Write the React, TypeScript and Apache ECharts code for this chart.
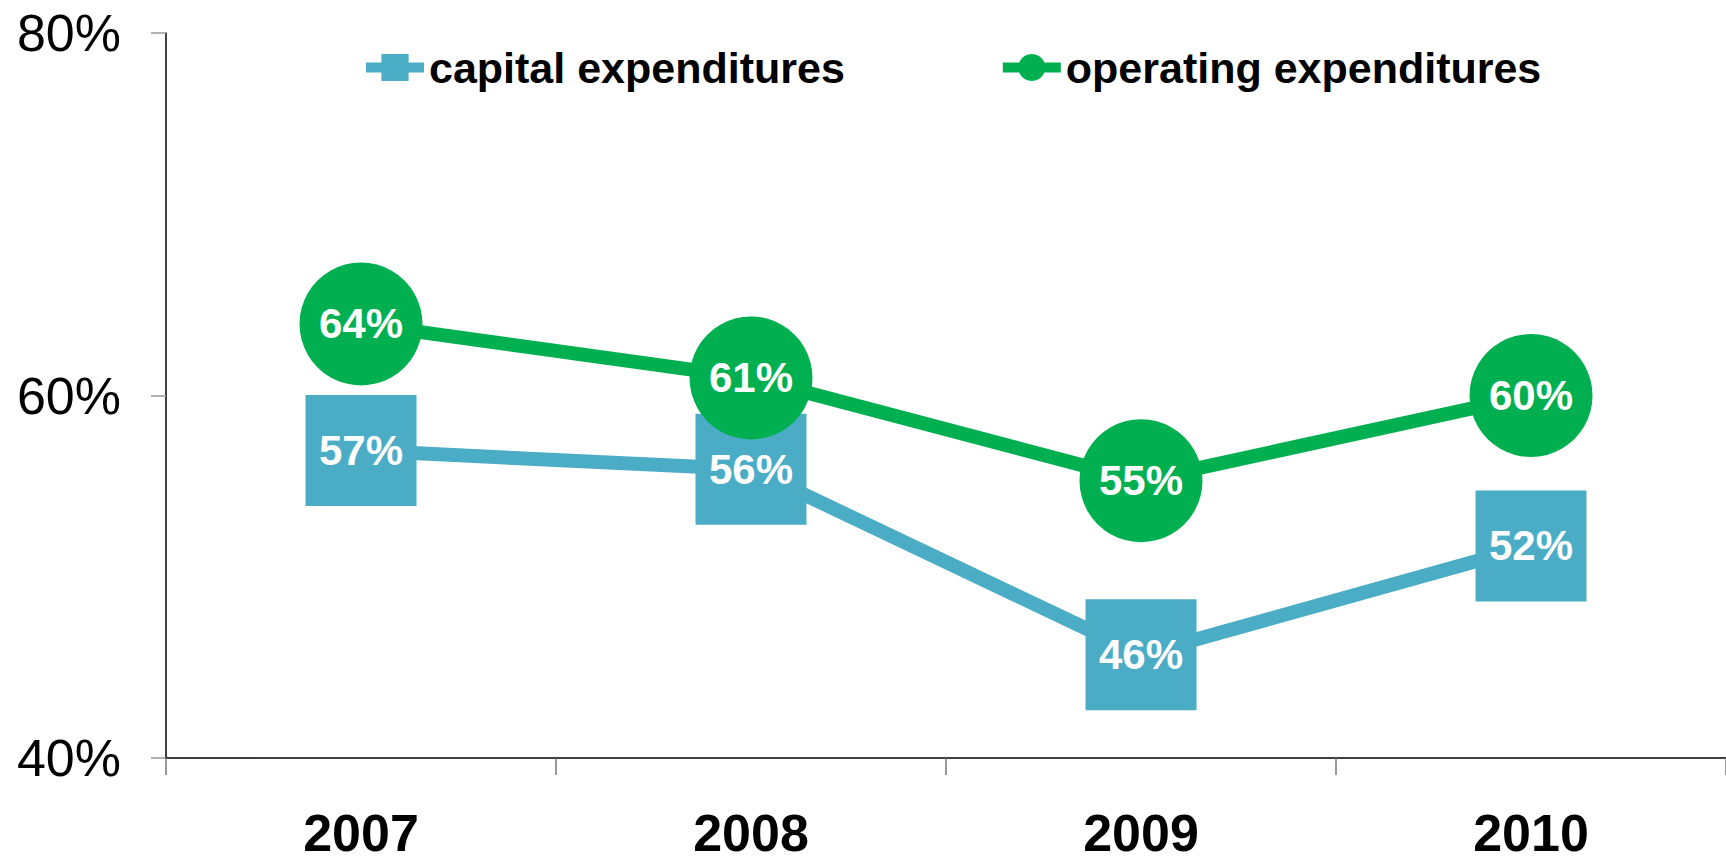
import React, { useEffect, useRef } from "react";
import * as echarts from "echarts";

const years = ["2007", "2008", "2009", "2010"];
const capitalValues = [56.96, 55.93, 45.7, 51.7];
const operatingValues = [63.95, 60.97, 55.3, 60.0];
const yTicks = { min: 40, max: 80, interval: 20 };
const seriesNames = ["capital expenditures", "operating expenditures"];

export default function App() {
  const ref = useRef<HTMLDivElement>(null);
  useEffect(() => {
    document.body.style.margin = "0";
    const chart = echarts.init(ref.current!, null, { renderer: "svg" });
    const font = "Liberation Sans, Arial, Helvetica, sans-serif";
    const labelFmt = (p: any) => Math.round(p.value) + "%";
    chart.setOption({
      animation: false,
      textStyle: { fontFamily: font },
      grid: { left: 166, right: 0, top: 33, bottom: 102 },
      legend: {
        top: 41,
        left: 356,
        itemWidth: 58,
        itemHeight: 34,
        itemGap: 153,
        lineStyle: { width: 10 },
        textStyle: { fontSize: 43, fontWeight: "bold", color: "#000", fontFamily: font },
        data: seriesNames,
      },
      xAxis: {
        type: "category",
        data: years,
        boundaryGap: true,
        axisLine: { lineStyle: { color: "#000", width: 1.5 } },
        axisTick: { show: true, length: 17, lineStyle: { color: "#777", width: 1.5 } },
        axisLabel: { fontSize: 52, lineHeight: 44, fontWeight: "bold", color: "#000", margin: 53, fontFamily: font },
      },
      yAxis: {
        type: "value",
        min: yTicks.min,
        max: yTicks.max,
        interval: yTicks.interval,
        splitLine: { show: false },
        axisLine: { show: true, lineStyle: { color: "#000", width: 1.5 } },
        axisTick: { show: true, length: 15, lineStyle: { color: "#999", width: 1.5 } },
        axisLabel: { fontSize: 52, color: "#000", margin: 45, formatter: "{value}%", fontFamily: font },
      },
      series: [
        {
          name: seriesNames[0],
          type: "line",
          data: capitalValues,
          symbol: "rect",
          symbolSize: 111,
          lineStyle: { color: "#4BACC6", width: 14 },
          itemStyle: { color: "#4BACC6" },
          label: {
            show: true,
            position: "inside",
            color: "#fff",
            fontSize: 42,
            fontWeight: "bold",
            fontFamily: font,
            formatter: labelFmt,
          },
          z: 2,
        },
        {
          name: seriesNames[1],
          type: "line",
          data: operatingValues,
          symbol: "circle",
          symbolSize: 123,
          lineStyle: { color: "#00B050", width: 14 },
          itemStyle: { color: "#00B050" },
          label: {
            show: true,
            position: "inside",
            color: "#fff",
            fontSize: 42,
            fontWeight: "bold",
            fontFamily: font,
            formatter: labelFmt,
          },
          z: 3,
        },
      ],
    });
    return () => chart.dispose();
  }, []);
  return <div ref={ref} style={{ width: 1726, height: 860 }} />;
}
